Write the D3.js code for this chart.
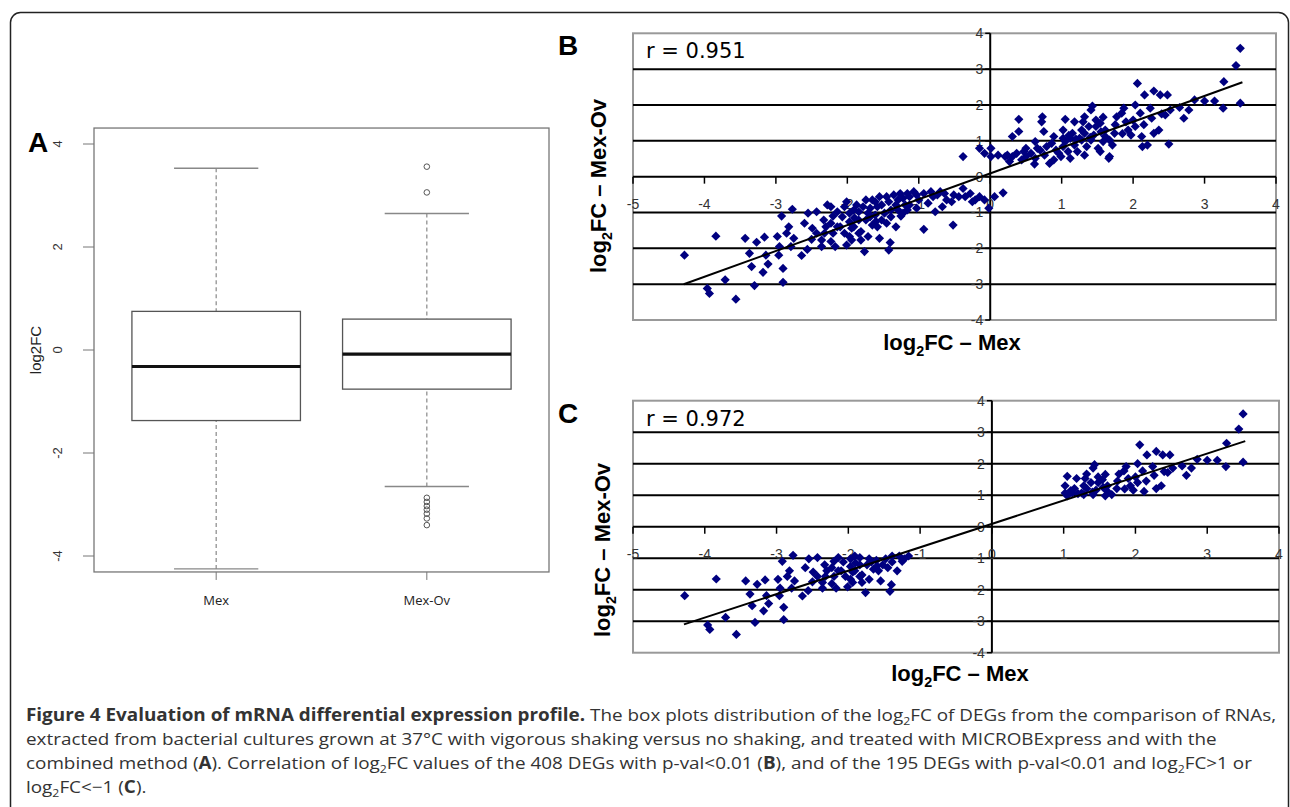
<!DOCTYPE html>
<html>
<head>
<meta charset="utf-8">
<script src="https://cdn.jsdelivr.net/npm/d3@7"></script>
<style>
  html, body { margin: 0; padding: 0; background: #fff; }
  svg { display: block; }
</style>
</head>
<body>
<div id="chart"></div>
<script>
// ---- panel A: box plot values ----
const boxCats= ['Mex', 'Mex-Ov'];
const boxLo= [-4.25, -2.65];
const boxQ1= [-1.37, -0.76];
const boxMed= [-0.32, -0.08];
const boxQ3= [0.75, 0.60];
const boxHi= [3.53, 2.65];
const outMexOv= [3.56, 3.06, -2.87, -2.95, -3.03, -3.10, -3.18, -3.27, -3.40];
const boxTicks= [-4, -2, 0, 2, 4];

// ---- panels B / C: log2FC Mex vs Mex-Ov ----
const ptsB= [
  [3.50,3.58],[3.44,3.10],[3.27,2.65],[3.50,2.05],[3.26,1.91],[3.14,2.11],[3.00,2.11],[2.86,2.14],
  [2.78,1.86],[2.71,1.63],[2.65,1.93],[2.06,2.60],[2.16,2.28],[2.29,2.39],[2.38,2.28],[2.48,2.28],
  [2.03,2.00],[2.24,1.91],[2.10,1.77],[2.50,0.91],[2.12,1.12],[2.13,0.84],[2.20,0.88],[2.36,1.30],
  [2.29,1.21],[2.26,1.63],[2.45,1.72],[2.52,1.86],[1.87,1.91],[1.84,1.77],[1.77,1.67],[1.71,0.88],
  [1.66,0.51],[1.67,0.56],[1.43,1.97],[1.41,1.86],[1.32,1.67],[1.30,1.53],[1.18,1.53],[1.05,1.60],
  [0.73,1.67],[0.72,1.53],[0.75,1.26],[0.40,1.60],[0.40,1.26],[0.31,1.12],[0.63,0.98],[0.89,1.12],
  [1.02,1.07],[1.15,1.21],[1.28,1.30],[1.48,1.40],[1.54,1.49],[1.61,1.30],[1.74,1.21],[1.93,1.30],
  [1.97,1.16],[2.03,1.40],[1.90,1.53],[2.00,1.58],[0.24,0.60],[0.31,0.56],[0.37,0.65],[0.27,0.42],
  [0.44,0.47],[0.50,0.56],[0.57,0.65],[0.63,0.51],[0.62,0.35],[0.70,0.74],[0.76,0.60],[0.79,0.84],
  [0.86,0.93],[0.92,0.74],[0.99,0.56],[1.02,0.84],[1.09,0.70],[1.12,0.51],[1.18,0.88],[1.22,0.70],
  [1.25,1.07],[1.32,0.60],[1.35,0.84],[1.41,1.02],[1.45,1.16],[1.51,0.79],[1.54,0.70],[1.58,0.98],
  [1.61,1.12],[1.67,1.02],[0.83,0.37],[0.89,0.47],[0.96,0.65],[1.05,0.98],[1.28,1.02],[1.32,1.21],
  [1.38,1.40],[1.48,1.58],[1.58,1.66],[1.02,1.30],[1.12,1.07],[0.50,0.79],[0.47,0.70],[0.66,0.79],
  [1.10,1.15],[1.20,1.05],[1.40,1.10],[1.55,1.25],[1.75,1.45],[1.85,1.20],[2.15,1.45],[2.40,1.75],
  [-0.15,0.79],[-0.38,0.56],[-0.08,0.65],[0.01,0.79],[0.01,0.56],[0.11,0.60],[0.21,0.56],
  [0.18,-0.45],[0.06,-0.56],[-0.02,-0.88],[-0.15,-0.56],[-0.25,-0.70],[-0.35,-0.56],[-0.38,-0.33],
  [-0.51,-0.51],[-0.61,-0.65],[-0.70,-0.42],[-0.52,-1.35],[-0.93,-1.47],
  [-4.28,-2.19],[-3.84,-1.66],[-3.96,-3.12],[-3.93,-3.26],[-3.71,-2.88],[-3.56,-3.42],[-3.43,-1.72],
  [-3.37,-2.14],[-3.34,-2.51],[-3.30,-3.04],[-3.27,-1.83],[-3.18,-2.67],[-3.16,-1.69],[-3.14,-2.19],
  [-3.11,-2.44],[-2.98,-1.67],[-2.96,-2.19],[-2.95,-1.95],[-2.92,-1.10],[-2.90,-2.56],[-2.90,-2.95],
  [-2.85,-1.58],[-2.82,-1.40],[-2.79,-1.95],[-2.77,-0.91],[-2.75,-1.72],[-2.64,-2.20],[-2.56,-2.03],
  [-2.55,-1.02],[-2.49,-1.44],[-2.43,-0.98],[-2.36,-1.95],[-2.33,-1.21],[-2.32,-1.58],[-2.28,-0.79],
  [-2.23,-1.81],[-2.17,-1.95],[-2.14,-1.40],[-2.07,-1.12],[-2.01,-0.70],[-1.97,-1.67],[-1.94,-1.44],
  [-1.91,-0.93],[-1.84,-1.21],[-1.81,-1.77],[-1.76,-2.09],[-1.74,-0.65],[-1.71,-1.02],[-1.65,-1.35],
  [-1.61,-0.70],[-1.58,-0.84],[-1.55,-1.72],[-1.52,-1.21],[-1.45,-0.56],[-1.42,-2.05],[-1.40,-1.84],
  [-1.39,-0.93],[-1.32,-1.40],[-1.29,-0.65],[-1.26,-0.47],[-1.22,-1.02],[-1.19,-0.79],[-1.13,-0.56],
  [-1.07,-0.42],[-1.03,-0.88],[-1.00,-0.65],[-0.93,-0.47],[-0.87,-0.74],[-0.80,-0.56],[-0.77,-0.98],
  [-0.67,-0.84],[-2.23,-0.84],[-2.14,-0.98],[-2.04,-0.84],[-1.97,-1.02],[-1.87,-0.79],[-1.84,-0.98],
  [-1.78,-0.84],[-1.68,-0.88],[-1.65,-0.65],[-1.55,-0.56],[-1.52,-0.79],[-1.42,-0.70],[-1.35,-0.51],
  [-1.32,-0.79],[-1.22,-0.60],[-1.16,-0.47],[-1.13,-0.79],[-1.03,-0.51],[-2.10,-1.40],[-2.04,-1.58],
  [-1.97,-1.26],[-1.91,-1.40],[-1.84,-1.58],[-1.74,-1.21],[-1.68,-1.12],[-1.61,-1.07],[-1.58,-1.40],
  [-1.48,-1.02],[-1.39,-1.12],[-1.29,-0.93],[-1.16,-0.93],[-2.23,-1.30],[-2.20,-1.58],[-2.30,-1.40],
  [-2.43,-1.58],[-2.36,-1.77],[-1.94,-1.77],[-2.01,-1.91],[-1.81,-1.53],[-1.71,-1.67],[-0.54,-0.70],
  [-0.44,-0.56],[-0.28,-0.47],[-0.21,-0.65],[-0.08,-0.65],[-0.83,-0.42],[-0.74,-0.51],[-0.64,-0.47],
  [-2.60,-1.30],[-2.50,-1.75],[-2.20,-1.10],[-1.90,-1.15],[-1.60,-1.25],[-1.45,-1.30],[-1.25,-1.10]
];
const fitB= [0.721, 0.09];
const fitC= [0.744, 0.09];
const fitRange= [-4.29, 3.53];
const rB= 'r = 0.951';
const rC= 'r = 0.972';
const xTicks= [-5, -4, -3, -2, -1, 0, 1, 2, 3, 4];
const yTicks= [-4, -3, -2, -1, 0, 1, 2, 3, 4];
const gridY= [-3, -2, -1, 1, 2, 3];

// panel C: the subset with |log2FC| > 1 in both
const ptsC= ptsB.filter(d => (d[0]>=1 && d[1]>=0.95) || (d[0]<=-1 && d[1]<=-0.9));

const caption= [
  [['b','Figure 4 Evaluation of mRNA differential expression profile.'],['n',' The box plots distribution of the log'],['s','2'],['n','FC of DEGs from the comparison of RNAs,']],
  [['n','extracted from bacterial cultures grown at 37°C with vigorous shaking versus no shaking, and treated with MICROBExpress and with the']],
  [['n','combined method ('],['b','A'],['n','). Correlation of log'],['s','2'],['n','FC values of the 408 DEGs with p-val<0.01 ('],['b','B'],['n','), and of the 195 DEGs with p-val<0.01 and log'],['s','2'],['n','FC>1 or']],
  [['n','log'],['s','2'],['n','FC<\u22121 ('],['b','C'],['n',').']]
];

const W= 1290, H= 807;
const svg= d3.select('#chart').append('svg').attr('width', W).attr('height', H);
const FONT= 'Liberation Sans, Arial, sans-serif';

svg.append('rect')
  .attr('x', 10.5).attr('y', 12.5).attr('width', 1278).attr('height', 830)
  .attr('rx', 10).attr('fill', 'none').attr('stroke', '#222').attr('stroke-width', 1.5);

// ================= A =================
{
  const yA= d3.scaleLinear().domain([-4, 4]).range([556, 144]);
  const xA= d3.scaleLinear().domain([0.42, 2.58]).range([94, 549]);
  const g= svg.append('g');
  const col= '#555';

  g.append('rect')
    .attr('x', xA(0.42)).attr('y', yA(4.31))
    .attr('width', xA(2.58)-xA(0.42)).attr('height', yA(-4.31)-yA(4.31))
    .attr('fill', 'none').attr('stroke', '#777').attr('stroke-width', 1.3);

  boxTicks.forEach(t => {
    g.append('line').attr('x1', 83).attr('x2', 94).attr('y1', yA(t)).attr('y2', yA(t))
      .attr('stroke', '#777');
    g.append('text').attr('transform', `translate(62,${yA(t)}) rotate(-90)`)
      .attr('text-anchor', 'middle').attr('font-family', FONT).attr('font-size', 13)
      .attr('fill', '#333').text(t);
  });
  g.append('text').attr('transform', `translate(41,350) rotate(-90)`)
    .attr('text-anchor', 'middle').attr('font-family', FONT).attr('font-size', 15)
    .attr('fill', '#222').text('log2FC');

  boxCats.forEach((c, i) => {
    const cx= xA(i+1);
    g.append('line').attr('x1', cx).attr('x2', cx).attr('y1', yA(-4.31)).attr('y2', yA(-4.31)+8)
      .attr('stroke', '#777');
    g.append('text').attr('x', cx).attr('y', 605).attr('text-anchor', 'middle')
      .attr('font-family', 'Open Sans, sans-serif').attr('font-size', 13).attr('fill', '#222').text(c);

    // whiskers
    [[boxHi[i], boxQ3[i]], [boxLo[i], boxQ1[i]]].forEach(([a, b]) => {
      g.append('line').attr('x1', cx).attr('x2', cx).attr('y1', yA(a)).attr('y2', yA(b))
        .attr('stroke', '#888').attr('stroke-width', 1.2).attr('stroke-dasharray', '4,3');
      g.append('line').attr('x1', xA(i+0.8)).attr('x2', xA(i+1.2)).attr('y1', yA(a)).attr('y2', yA(a))
        .attr('stroke', '#888').attr('stroke-width', 1.4);
    });
    g.append('rect')
      .attr('x', xA(i+0.6)).attr('y', yA(boxQ3[i]))
      .attr('width', xA(i+1.4)-xA(i+0.6)).attr('height', yA(boxQ1[i])-yA(boxQ3[i]))
      .attr('fill', '#fff').attr('stroke', col).attr('stroke-width', 1.3);
    g.append('line').attr('x1', xA(i+0.6)).attr('x2', xA(i+1.4))
      .attr('y1', yA(boxMed[i])).attr('y2', yA(boxMed[i]))
      .attr('stroke', '#111').attr('stroke-width', 3.2);
  });
  g.selectAll('circle.out').data(outMexOv).join('circle')
    .attr('cx', xA(2)).attr('cy', d => yA(d)).attr('r', 2.8)
    .attr('fill', 'none').attr('stroke', '#555').attr('stroke-width', 1);

  svg.append('text').attr('x', 28).attr('y', 152).attr('font-family', FONT)
    .attr('font-weight', 'bold').attr('font-size', 28).attr('fill', '#000').text('A');
}

// ================= B / C scatter =================
function subText(sel, parts, size) {
  parts.forEach(([k, t], i) => {
    const ts= sel.append('tspan').text(t);
    if (k==='s') ts.attr('font-size', size*0.65).attr('dy', size*0.25);
    else if (i>0 && parts[i-1][0]==='s') ts.attr('dy', -size*0.25);
    if (k==='b') ts.attr('font-weight', 'bold');
  });
}

function scatter(opt) {
  const { x0, x1, y0, y1, pts, fit, r, letter, titleX, titleY, ylabX, ylabY } = opt;
  const x= d3.scaleLinear().domain([-5, 4]).range([x0, x1]);
  const y= d3.scaleLinear().domain([-4, 4]).range([y1, y0]);
  const g= svg.append('g');

  g.append('rect').attr('x', x0).attr('y', y0).attr('width', x1-x0).attr('height', y1-y0)
    .attr('fill', '#fff').attr('stroke', '#999').attr('stroke-width', 2);

  g.selectAll('line.grid').data(gridY).join('line')
    .attr('x1', x0).attr('x2', x1).attr('y1', d => y(d)).attr('y2', d => y(d))
    .attr('stroke', '#000').attr('stroke-width', 2);

  g.append('line').attr('x1', x0).attr('x2', x1).attr('y1', y(0)).attr('y2', y(0))
    .attr('stroke', '#000').attr('stroke-width', 2);
  g.append('line').attr('x1', x(0)).attr('x2', x(0)).attr('y1', y0).attr('y2', y1)
    .attr('stroke', '#000').attr('stroke-width', 2);

  g.selectAll('line.xt').data(xTicks).join('line')
    .attr('x1', d => x(d)).attr('x2', d => x(d)).attr('y1', y(0)).attr('y2', y(0)+7)
    .attr('stroke', '#000').attr('stroke-width', 1.5);
  g.selectAll('line.yt').data(yTicks).join('line')
    .attr('x1', x(0)-5).attr('x2', x(0)).attr('y1', d => y(d)).attr('y2', d => y(d))
    .attr('stroke', '#000').attr('stroke-width', 1.5);

  g.selectAll('text.xl').data(xTicks).join('text')
    .attr('x', d => x(d)).attr('y', y(0)+32).attr('text-anchor', 'middle')
    .attr('font-family', FONT).attr('font-size', 14).attr('fill', '#333').text(d => d);
  g.selectAll('text.yl').data(yTicks).join('text')
    .attr('x', x(0)-7).attr('y', d => y(d)).attr('dy', '0.35em').attr('text-anchor', 'end')
    .attr('font-family', FONT).attr('font-size', 14).attr('fill', '#333').text(d => d);

  g.selectAll('path.pt').data(pts).join('path')
    .attr('transform', d => `translate(${x(d[0])},${y(d[1])})`)
    .attr('d', 'M0,-4.6L4.6,0L0,4.6L-4.6,0Z')
    .attr('fill', '#000080');

  g.append('line')
    .attr('x1', x(fitRange[0])).attr('y1', y(fit[0]*fitRange[0]+fit[1]))
    .attr('x2', x(fitRange[1])).attr('y2', y(fit[0]*fitRange[1]+fit[1]))
    .attr('stroke', '#000').attr('stroke-width', 2);

  g.append('text').attr('x', x0+13).attr('y', y0+25)
    .attr('font-family', 'DejaVu Sans, Verdana, sans-serif').attr('font-size', 21)
    .attr('fill', '#000').text(r);

  svg.append('text').attr('x', 558).attr('y', y0+22).attr('font-family', FONT)
    .attr('font-weight', 'bold').attr('font-size', 28).attr('fill', '#000').text(letter);

  const yt= svg.append('text').attr('transform', `translate(${ylabX},${ylabY}) rotate(-90)`)
    .attr('text-anchor', 'middle').attr('font-family', FONT).attr('font-weight', 'bold')
    .attr('font-size', 22).attr('fill', '#000');
  subText(yt, [['b','log'],['s','2'],['b','FC \u2013 Mex-Ov']], 22);
  const xt= svg.append('text').attr('x', titleX).attr('y', titleY)
    .attr('text-anchor', 'middle').attr('font-family', FONT).attr('font-weight', 'bold')
    .attr('font-size', 22).attr('fill', '#000');
  subText(xt, [['b','log'],['s','2'],['b','FC \u2013 Mex']], 22);
}

scatter({ x0: 633, x1: 1276, y0: 33.3, y1: 320, pts: ptsB, fit: fitB, r: rB, letter: 'B',
  titleX: 952, titleY: 350, ylabX: 606, ylabY: 186 });
scatter({ x0: 633, x1: 1279, y0: 400.7, y1: 652.7, pts: ptsC, fit: fitC, r: rC, letter: 'C',
  titleX: 960, titleY: 681, ylabX: 610, ylabY: 550 });

// ================= caption =================
{
  const capX= 26, capRight= 1277, base= [721, 745, 769, 793];
  const lines= caption.map((parts, i) => {
    const t= svg.append('text').attr('x', 0).attr('y', 0)
      .attr('font-family', 'Liberation Sans Narrow, Open Sans, sans-serif').attr('font-size', 17)
      .attr('fill', '#333');
    subText(t, parts.map(([k, s]) => [k==='n' ? 'r' : k, s]), 17);
    return t;
  });
  const k= (capRight-capX)/lines[0].node().getComputedTextLength();
  lines.forEach((t, i) => t.attr('transform', `translate(${capX},${base[i]}) scale(${k},1)`));
}
</script>
</body>
</html>
